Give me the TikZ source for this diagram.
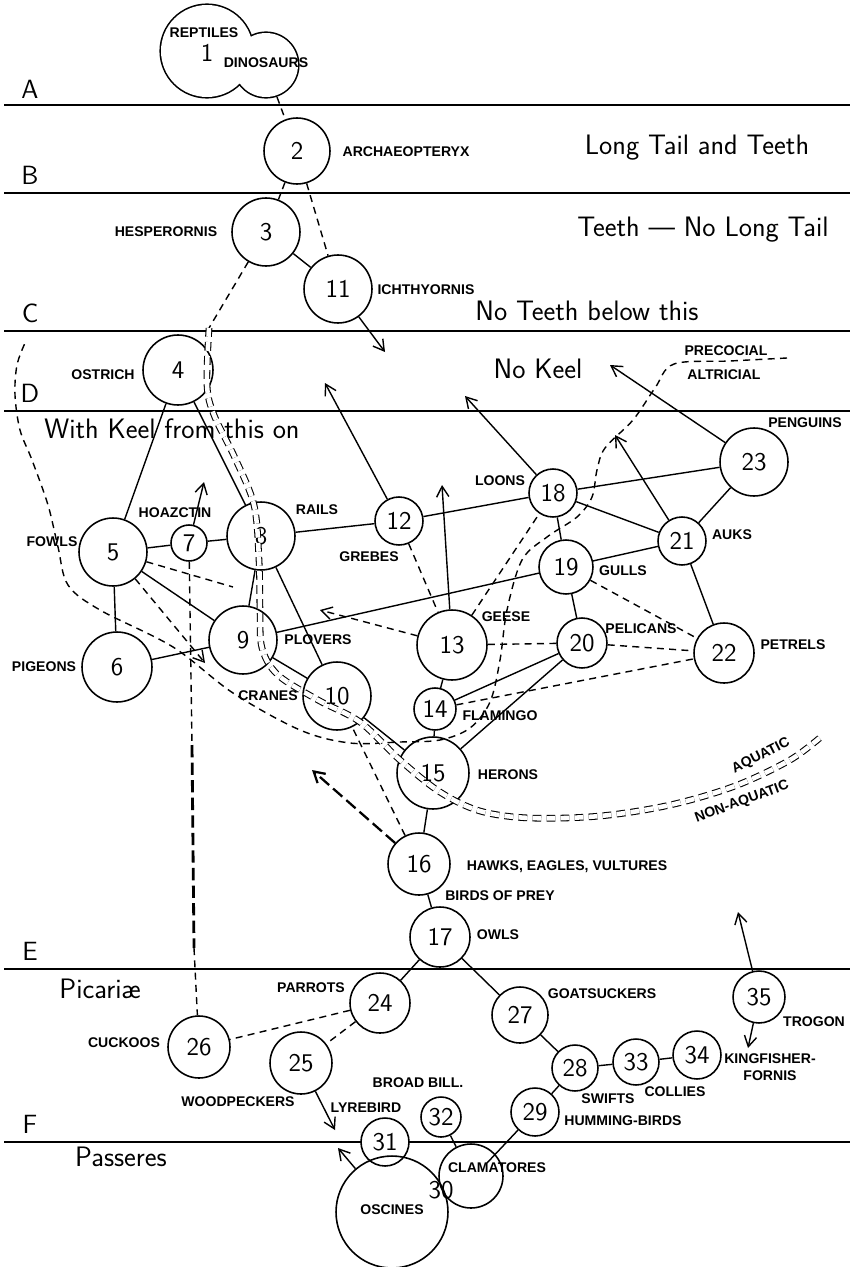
\documentclass[tikz,border=0pt]{standalone}
\usepackage{fontspec}
\newfontfamily\labfont{Liberation Sans}
\usetikzlibrary{arrows.meta, positioning}

\newcommand\numsize{\sffamily\fontsize{14.5}{16}\selectfont}

\begin{document}
\begin{tikzpicture}[
    x=0.02cm, y=-0.02cm,
    band/.style={line width=1.1pt},
    era/.style={font=\sffamily\fontsize{15}{18}\selectfont, inner sep=0pt},
    note/.style={font=\sffamily\fontsize{16}{19}\selectfont, inner sep=0pt},
    bird/.style={circle, draw, fill=white, line width=0.9pt, inner sep=0pt, minimum size=#1*0.04cm, font=\numsize},
    ring/.style={circle, draw, line width=0.9pt, inner sep=0pt, minimum size=#1*0.04cm},
    lab/.style={font=\labfont\bfseries\fontsize{8}{9.5}\selectfont, inner sep=0pt, align=center},
    link/.style={line width=0.8pt},
    maybe/.style={line width=0.8pt, dash pattern=on 4pt off 3pt},
    heavy/.style={line width=1.6pt, dash pattern=on 7pt off 3pt},
    arr/.style={line width=0.8pt, -{Straight Barb[length=6pt, width=7pt]}},
    aqua/.style={line width=0.6pt, dash pattern=on 5pt off 3pt, double, double distance=2.6pt},
  ]
  \useasboundingbox (0,0) rectangle (853,1267);

  % division lines
  \foreach \yy in {105,193,331,411,969,1142}
    \draw[band] (4,\yy) -- (850,\yy);
  \foreach \l/\yy in {A/89, B/175, C/313, D/393, E/951, F/1124}
    \node[era] (era\l) at (30,\yy) {\l};

  \node[note] (longtail) at (697,148) {Long Tail and Teeth};
  \node[note] (teethonly) at (703,230) {Teeth --- No Long Tail};
  \node[note] (noteeth) at (587,311) {No Teeth below this};
  \node[note] (nokeel) at (538,369) {No Keel};
  \node[note] (withkeel) at (172,429) {With Keel from this on};
  \node[note] (picariae) at (100,989) {Picari\ae};
  \node[note] (passeres) at (121,1157) {Passeres};

  % reptiles / dinosaurs
  \draw[line width=1.8pt] (207,51) circle[radius=46] (266,65) circle[radius=32];
  \fill[white] (207,51) circle[radius=46] (266,65) circle[radius=32];
  \node[lab] (reptiles) at (204,33) {REPTILES};
  \node[font=\numsize, inner sep=0pt] (one) at (207,53) {1};
  \node[lab] (dinosaurs) at (266,63) {DINOSAURS};
  \coordinate (dinobase) at (277,97);

  % birds
  \node[bird=33] (archaeopteryx) at (297,151) {2};
  \node[bird=34] (hesperornis) at (266,232) {3};
  \node[bird=34] (ichthyornis) at (338,289) {11};
  \node[bird=35] (ostrich) at (178,370) {4};
  \node[bird=34] (fowls) at (113,552) {5};
  \node[bird=35] (pigeons) at (117,667) {6};
  \node[bird=18] (hoazin) at (189,543) {7};
  \node[bird=34] (rails) at (261,536) {8};
  \node[bird=34] (plovers) at (243,640) {9};
  \node[bird=34] (cranes) at (337,696) {10};
  \node[bird=24] (grebes) at (399,521) {12};
  \node[bird=35] (geese) at (452,645) {13};
  \node[bird=21] (flamingo) at (435,709) {14};
  \node[bird=36] (herons) at (433,773) {15};
  \node[bird=31] (hawks) at (419,864) {16};
  \node[bird=30] (owls) at (440,937) {17};
  \node[bird=24] (loons) at (553,493) {18};
  \node[bird=27] (gulls) at (566,567) {19};
  \node[bird=25] (pelicans) at (582,643) {20};
  \node[bird=24] (auks) at (682,541) {21};
  \node[bird=30] (petrels) at (724,653) {22};
  \node[bird=34] (penguins) at (754,462) {23};
  \node[bird=30] (parrots) at (380,1003) {24};
  \node[bird=31] (woodpeckers) at (301,1063) {25};
  \node[bird=31] (cuckoos) at (199,1047) {26};
  \node[bird=28] (goatsuckers) at (520,1015) {27};
  \node[bird=23] (swifts) at (575,1068) {28};
  \node[bird=24] (hummers) at (535,1112) {29};
  \node[bird=24] (lyrebird) at (385,1142) {31};
  \node[bird=20] (broadbill) at (441,1117) {32};
  \node[bird=23] (collies) at (636,1062) {33};
  \node[bird=24] (kingfishers) at (697,1055) {34};
  \node[bird=26] (trogon) at (759,997) {35};
  \node[ring=56] (oscines) at (392,1212) {};
  \node[ring=32] (clamatores) at (471,1176) {};

  % names
  \node[lab] (archaeopteryx-l) at (406,152) {ARCHAEOPTERYX};
  \node[lab] (hesperornis-l) at (166,232) {HESPERORNIS};
  \node[lab] (ichthyornis-l) at (426,290) {ICHTHYORNIS};
  \node[lab] (ostrich-l) at (103,375) {OSTRICH};
  \node[lab] (fowls-l) at (52,542) {FOWLS};
  \node[lab] (hoazin-l) at (175,513) {HOAZCTIN};
  \node[lab] (rails-l) at (317,510) {RAILS};
  \node[lab] (pigeons-l) at (44,667) {PIGEONS};
  \node[lab] (grebes-l) at (369,557) {GREBES};
  \node[lab] (plovers-l) at (318,640) {PLOVERS};
  \node[lab] (cranes-l) at (268,696) {CRANES};
  \node[lab] (geese-l) at (506,617) {GEESE};
  \node[lab] (flamingo-l) at (500,716) {FLAMINGO};
  \node[lab] (herons-l) at (508,775) {HERONS};
  \node[lab] (loons-l) at (500,481) {LOONS};
  \node[lab] (gulls-l) at (623,571) {GULLS};
  \node[lab] (pelicans-l) at (641,629) {PELICANS};
  \node[lab] (petrels-l) at (793,645) {PETRELS};
  \node[lab] (auks-l) at (732,535) {AUKS};
  \node[lab] (penguins-l) at (805,423) {PENGUINS};
  \node[lab] (hawks-l) at (567,867) {HAWKS, EAGLES, VULTURES};
  \node[lab] (prey-l) at (500,896) {BIRDS OF PREY};
  \node[lab] (owls-l) at (498,935) {OWLS};
  \node[lab] (parrots-l) at (311,988) {PARROTS};
  \node[lab] (goatsuckers-l) at (602,994) {GOATSUCKERS};
  \node[lab] (cuckoos-l) at (124,1043) {CUCKOOS};
  \node[lab] (woodpeckers-l) at (238,1102) {WOODPECKERS};
  \node[lab] (lyrebird-l) at (366,1108) {LYREBIRD};
  \node[lab] (broadbill-l) at (418,1083) {BROAD BILL.};
  \node[lab] (swifts-l) at (608,1099) {SWIFTS};
  \node[lab] (collies-l) at (675,1092) {COLLIES};
  \node[lab] (hummers-l) at (623,1121) {HUMMING-BIRDS};
  \node[lab] (trogon-l) at (814,1022) {TROGON};
  \node[lab] (kingfishers-l) at (770,1067) {KINGFISHER-\\FORNIS};
  \node[lab] (clamatores-l) at (497,1168) {CLAMATORES};
  \node[font=\numsize, inner sep=0pt] (thirty) at (441,1190) {30};
  \node[lab] (oscines-l) at (392,1210) {OSCINES};
  \node[lab] (precocial) at (726,351) {PRECOCIAL};
  \node[lab] (altricial) at (724,375) {ALTRICIAL};
  \node[lab, rotate=27] (aquatic) at (761,756) {AQUATIC};
  \node[lab, rotate=20] (nonaquatic) at (742,802) {NON-AQUATIC};

  % free ends
  \coordinate (aquatop) at (209,328);
  \coordinate (tip11) at (385,352);
  \coordinate (tip12) at (325,383);
  \coordinate (tip18) at (465,396);
  \coordinate (tip23) at (610,365);
  \coordinate (tip21) at (615,435);
  \coordinate (tip13) at (442,485);
  \coordinate (tip13b) at (320,610);
  \coordinate (tip5) at (205,663);
  \coordinate (fowlend) at (233,587);
  \coordinate (tip7) at (204,482);
  \coordinate (tip16) at (312,770);
  \coordinate (tip35a) at (738,912);
  \coordinate (tip35b) at (748,1048);
  \coordinate (tip25) at (335,1130);
  \coordinate (tip31) at (338,1148);
  \coordinate (clamcore) at (487,1163);
  \coordinate (k1) at (192,745);
  \coordinate (k2) at (194,948);

  % solid links
  \draw[link] (hesperornis) -- (ichthyornis);
  \draw[link] (ostrich) -- (fowls);
  \draw[link] (ostrich) -- (rails);
  \draw[link] (fowls) -- (hoazin);
  \draw[link] (hoazin) -- (rails);
  \draw[link] (fowls) -- (pigeons);
  \draw[link] (fowls) -- (plovers);
  \draw[link] (pigeons) -- (plovers);
  \draw[link] (rails) -- (plovers);
  \draw[link] (rails) -- (cranes);
  \draw[link] (plovers) -- (cranes);
  \draw[link] (cranes) -- (herons);
  \draw[link] (rails) -- (grebes);
  \draw[link] (grebes) -- (loons);
  \draw[link] (loons) -- (penguins);
  \draw[link] (loons) -- (auks);
  \draw[link] (auks) -- (penguins);
  \draw[link] (gulls) -- (auks);
  \draw[link] (loons) -- (gulls);
  \draw[link] (gulls) -- (pelicans);
  \draw[link] (auks) -- (petrels);
  \draw[link] (plovers) -- (gulls);
  \draw[link] (geese) -- (flamingo);
  \draw[link] (flamingo) -- (herons);
  \draw[link] (flamingo) -- (pelicans);
  \draw[link] (herons) -- (pelicans);
  \draw[link] (herons) -- (hawks);
  \draw[link] (hawks) -- (owls);
  \draw[link] (owls) -- (parrots);
  \draw[link] (owls) -- (goatsuckers);
  \draw[link] (goatsuckers) -- (swifts);
  \draw[link] (swifts) -- (collies);
  \draw[link] (collies) -- (kingfishers);
  \draw[link] (swifts) -- (hummers);
  \draw[link] (hummers) -- (clamcore);
  \draw[link] (broadbill) -- (clamatores);

  % dashed links
  \draw[maybe] (dinobase) -- (archaeopteryx);
  \draw[maybe] (archaeopteryx) -- (hesperornis);
  \draw[maybe] (archaeopteryx) -- (ichthyornis);
  \draw[maybe] (hesperornis) -- (aquatop);
  \draw[maybe] (grebes) -- (geese);
  \draw[maybe] (geese) -- (loons);
  \draw[maybe] (geese) -- (pelicans);
  \draw[maybe] (pelicans) -- (petrels);
  \draw[maybe] (gulls) -- (petrels);
  \draw[maybe] (flamingo) -- (petrels);
  \draw[maybe] (hawks) -- (cranes);
  \draw[maybe] (parrots) -- (woodpeckers);
  \draw[maybe] (parrots) -- (cuckoos);
  \draw[maybe] (fowls) -- (fowlend);
  \draw[maybe] (hoazin) -- (k1);
  \draw[heavy] (k1) -- (k2);
  \draw[maybe] (k2) -- (cuckoos);

  % arrows
  \draw[arr] (ichthyornis) -- (tip11);
  \draw[arr] (grebes) -- (tip12);
  \draw[arr] (loons) -- (tip18);
  \draw[arr] (penguins) -- (tip23);
  \draw[arr] (auks) -- (tip21);
  \draw[arr] (geese) -- (tip13);
  \draw[arr, maybe] (geese) -- (tip13b);
  \draw[arr, maybe] (fowls) -- (tip5);
  \draw[arr] (hoazin) -- (tip7);
  \draw[arr, heavy, line width=1.3pt] (hawks) -- (tip16);
  \draw[arr] (trogon) -- (tip35a);
  \draw[arr] (trogon) -- (tip35b);
  \draw[arr] (woodpeckers) -- (tip25);
  \draw[arr] (oscines) -- (tip31);

  % precocial / altricial
  \draw[maybe] plot[smooth, tension=0.55] coordinates {(787,358) (730,361) (674,364) (655,388) (633,420) (605,448) (597,470) (592,497) (577,517) (547,537) (522,560) (507,610) (500,660) (490,702) (470,728) (440,740) (400,742) (350,743) (300,730) (233,693) (173,647) (100,610) (68,585) (58,547) (48,505) (32,460) (20,430) (15,395) (17,365) (25,343)};

  % aquatic / non-aquatic
  \draw[aqua] plot[smooth, tension=0.55] coordinates {(aquatop) (207,385) (214,415) (235,458) (254,505) (259,560) (260,610) (262,648) (278,675) (318,700) (360,722) (400,760) (440,792) (480,811) (530,818) (600,816) (670,805) (735,786) (790,760) (822,736)};
\end{tikzpicture}
\end{document}
